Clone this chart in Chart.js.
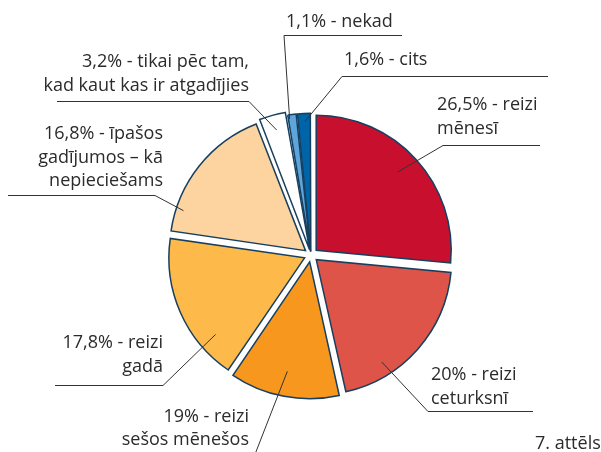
<!DOCTYPE html>
<html>
<head>
<meta charset="utf-8">
<script src="https://cdn.jsdelivr.net/npm/chart.js@4"></script>
<style>
  html, body { margin: 0; padding: 0; background: #fff; }
  #wrap { width: 601px; height: 452px; }
</style>
</head>
<body>
<div id="wrap"><canvas id="pie"></canvas></div>
<script>
// dati
const kategorijas = ["reizi mēnesī", "reizi ceturksnī", "reizi sešos mēnešos", "reizi gadā",
  "īpašos gadījumos – kā nepieciešams", "tikai pēc tam, kad kaut kas ir atgadījies", "nekad", "cits"];
// sektoru lielumi, kā tie uzzīmēti attēlā
const vertibas = [26.5, 20, 13, 17.8, 16.8, 3.2, 1.1, 1.6];
// uzraksti pie sektoriem
const uzraksti = [
  ["26,5% - reizi", "mēnesī"],
  ["20% - reizi", "ceturksnī"],
  ["19% - reizi", "sešos mēnešos"],
  ["17,8% - reizi", "gadā"],
  ["16,8% - īpašos", "gadījumos – kā", "nepieciešams"],
  ["3,2% - tikai pēc tam,", "kad kaut kas ir atgadījies"],
  ["1,1% - nekad"],
  ["1,6% - cits"]
];
const krasas = ["#C8102E", "#DE5449", "#F7971D", "#FDBA4A", "#FDD39F", "#FFFFFF", "#5DA5DA", "#0064A8"];

// uzrakstu un līniju izkārtojums
const izkartojums = [
  { x: 437, y: 110, align: "left",  path: [[540, 145.5], [443, 145.5]], t: 0.485, f: 0.89 },
  { x: 431, y: 380, align: "left",  path: [[533, 411.5], [428, 411.5]], t: 0.71, f: 0.95 },
  { x: 249, y: 421.5, align: "right", path: [[252, 462]], t: 0.515, f: 0.88 },
  { x: 163, y: 348, align: "right", path: [[55, 385.5], [163, 385.5]], t: 0.25, f: 0.92 },
  { x: 163, y: 139, align: "right", path: [[8, 195.5], [155, 195.5]], t: 0.18, f: 1.0 },
  { x: 249, y: 67,  align: "right", path: [[57, 101.5], [249, 101.5]], t: 0.51, f: 0.96 },
  { x: 286, y: 27,  align: "left",  path: [[402, 35.5], [284, 35.5]], t: 0.2, f: 1.02 },
  { x: 344, y: 65,  align: "left",  path: [[548, 76.5], [342, 76.5]], t: 0.55, f: 0.99 }
];

const uzrakstiPlugin = {
  id: "uzraksti",
  afterDraw(chart) {
    const ctx = chart.ctx;
    const arcs = chart.getDatasetMeta(0).data;
    ctx.save();
    ctx.strokeStyle = "#333333";
    ctx.lineWidth = 1;
    ctx.fillStyle = "#2b2b2b";
    ctx.font = "18px 'Open Sans'";
    ctx.textBaseline = "alphabetic";
    izkartojums.forEach((l, i) => {
      const a = arcs[i];
      const ang = a.startAngle + (a.endAngle - a.startAngle) * l.t;
      const ax = a.x + Math.cos(ang) * a.outerRadius * l.f;
      const ay = a.y + Math.sin(ang) * a.outerRadius * l.f;
      ctx.beginPath();
      ctx.moveTo(l.path[0][0], l.path[0][1]);
      for (let k = 1; k < l.path.length; k++) ctx.lineTo(l.path[k][0], l.path[k][1]);
      ctx.lineTo(ax, ay);
      ctx.stroke();
      ctx.textAlign = l.align;
      uzraksti[i].forEach((txt, j) => {
        ctx.fillText(txt, l.x, l.y + j * 23.5);
      });
    });
    ctx.textAlign = "left";
    ctx.fillText("7. attēls", 535, 449);
    ctx.restore();
  }
};

new Chart(document.getElementById("pie"), {
  type: "pie",
  data: {
    labels: kategorijas,
    datasets: [
      {
        data: vertibas,
        backgroundColor: krasas,
        borderColor: "#173F5F",
        borderWidth: 1.5,
        borderJoinStyle: "miter",
        offset: [28, 28, 28, 28, 28, 22, 14, 14]
      }
    ]
  },
  options: {
    responsive: true,
    maintainAspectRatio: false,
    animation: false,
    events: [],
    radius: 135,
    layout: { padding: { left: 21, top: 58, right: 0, bottom: 0 } },
    plugins: {
      legend: { display: false },
      tooltip: { enabled: false }
    }
  },
  plugins: [uzrakstiPlugin]
});
</script>
</body>
</html>
